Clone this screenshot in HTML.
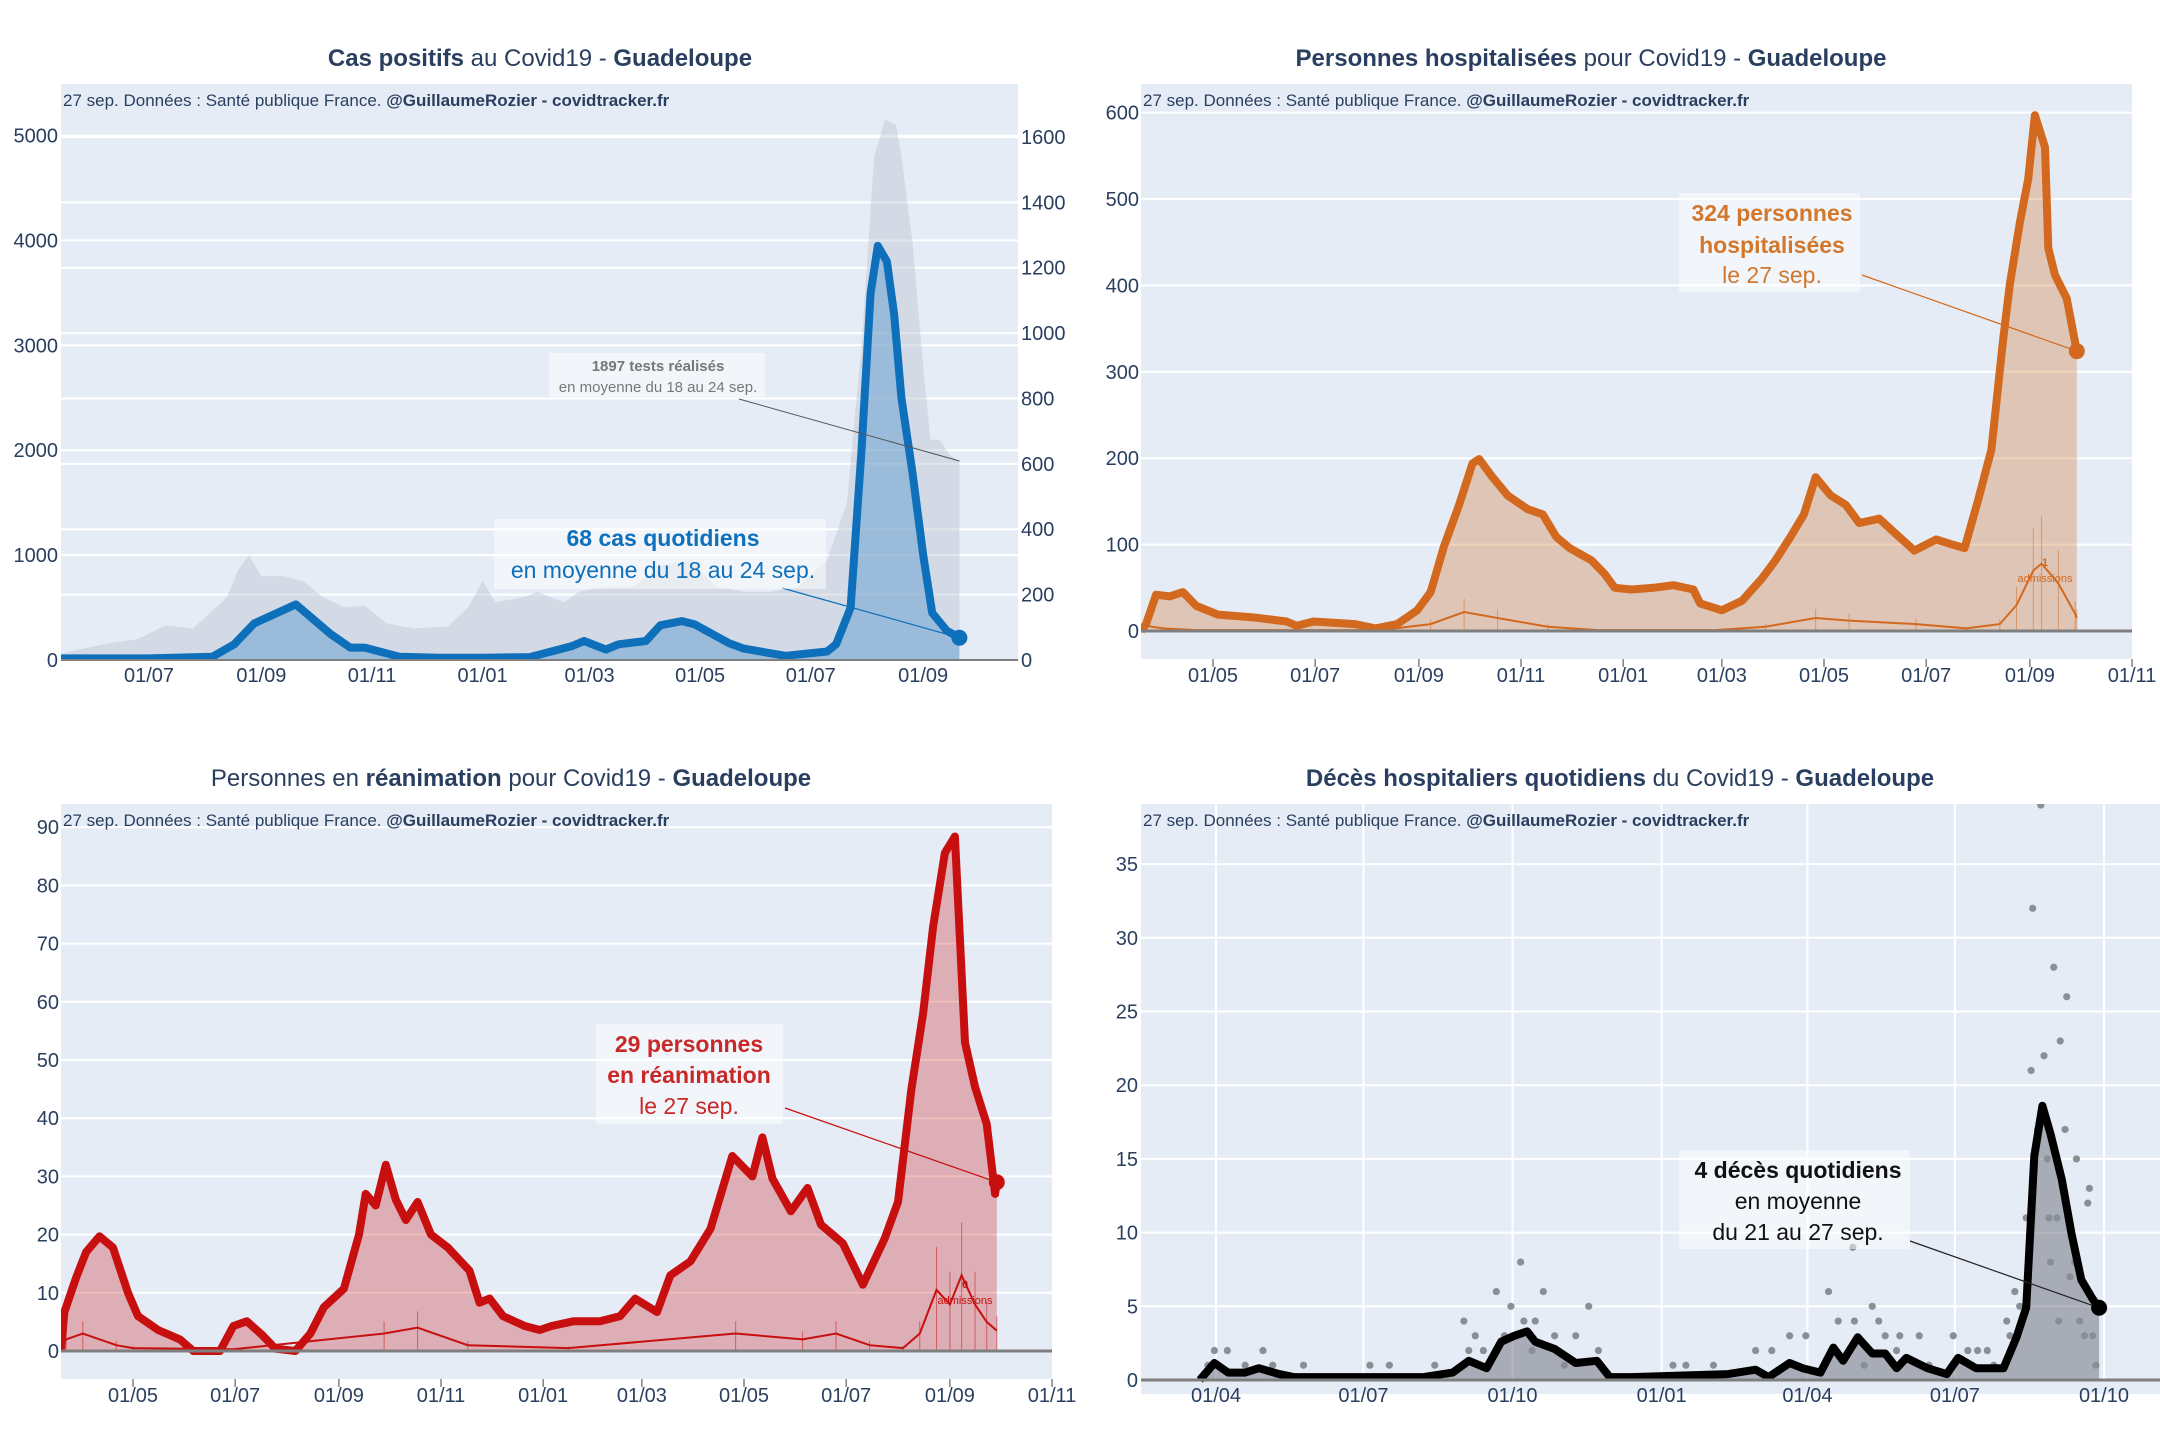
<!DOCTYPE html>
<html><head><meta charset="utf-8">
<style>
html,body{margin:0;padding:0;background:#fff;}
svg{display:block;font-family:"Liberation Sans",sans-serif;}
</style></head>
<body>
<svg id="chart" width="2160" height="1440" viewBox="0 0 2160 1440" xmlns="http://www.w3.org/2000/svg">
<defs>
<clipPath id="c1"><rect x="61" y="84" width="957" height="576"/></clipPath>
<clipPath id="c2"><rect x="1141" y="84" width="991" height="575"/></clipPath>
<clipPath id="c3"><rect x="61" y="804" width="991" height="575"/></clipPath>
<clipPath id="c4"><rect x="1141" y="804" width="1019" height="590"/></clipPath>
</defs>
<g id="root"></g>
</svg>
<script>
// ---- Panel 1: cases (right axis, days since 2020-07-01) & tests (left axis)
const casesDays   = [-48,0,35,47,58,81,100,111,119,138,160,184,210,233,240,252,259,274,282,294,301,320,328,351,374,379,387,393,398,402,407,411,415,421,427,432,440,447];
const casesValues = [5,5,10,48,112,170,80,38,38,10,7,7,9,42,58,32,48,58,106,119,109,51,35,13,26,48,160,641,1122,1267,1219,1058,802,577,321,144,90,68];
const testsDays   = [-48,-44,-25,-6,9,24,32,43,49,55,62,74,85,96,108,119,131,146,165,176,184,191,207,214,229,237,252,267,283,298,313,328,343,358,374,385,393,400,406,412,415,421,427,431,436,442,447];
const testsValues = [60,80,150,200,330,300,420,600,850,1000,800,800,750,600,500,520,350,300,320,500,750,550,600,650,550,650,700,700,900,950,700,650,650,700,950,1500,3000,4800,5150,5100,4800,4000,2800,2100,2100,1950,1897];
const p1LeftTicks  = [0,1000,2000,3000,4000,5000];
const p1RightTicks = [0,200,400,600,800,1000,1200,1400,1600];
const p1XTickDays  = [0,62,123,184,243,304,365,427];
const p1XTickLabels= ["01/07","01/09","01/11","01/01","01/03","01/05","01/07","01/09"];

// ---- Panel 2: hospitalised (days since 2020-05-01)
const hospDays   = [-43,-40,-34,-26,-18,-10,3,23,44,50,60,85,97,110,122,130,138,147,155,159,167,176,188,197,205,213,226,234,240,250,263,275,287,291,304,316,328,336,345,353,360,369,378,386,398,407,419,432,440,449,457,465,472,476,482,487,491,497,499,503,510,516];
const hospValues = [0,8,42,40,45,29,19,16,11,6,11,8,3,8,24,45,98,146,194,199,178,157,141,135,109,96,82,66,50,48,50,53,48,32,24,35,61,82,109,135,178,157,146,125,130,114,93,106,101,96,151,210,337,401,473,523,597,560,443,412,385,324];
const hospAdmDays   = [-43,-40,-30,-10,0,100,130,150,170,200,230,300,330,360,380,420,450,470,480,490,495,505,515,516];
const hospAdmValues = [0,6,3,1,1,1,8,22,15,5,1,1,5,15,12,8,3,8,30,70,78,55,20,15];
const p2YTicks = [0,100,200,300,400,500,600];
const p23XTickDays   = [0,61,123,184,245,304,365,426,488,549];
const p23XTickLabels = ["01/05","01/07","01/09","01/11","01/01","01/03","01/05","01/07","01/09","01/11"];

// ---- Panel 3: ICU (days since 2020-05-01)
const icuDays   = [-43,-41,-34,-28,-20,-12,-3,3,15,28,36,52,60,68,77,85,97,106,114,126,135,139,145,151,157,163,170,178,188,201,207,213,221,234,243,250,263,279,291,300,313,321,333,345,358,370,376,382,393,403,411,424,436,449,457,465,472,478,485,491,497,503,510,515,516];
const icuValues = [0,6.7,12.6,17,19.7,17.8,10,6,3.6,2,0,0,4.3,5.1,2.8,0.4,0,3,7.5,10.7,20,27,25,32,26,22.5,25.6,20,17.8,13.8,8.3,9,6,4.3,3.6,4.3,5.1,5.1,6,9,6.7,13,15.4,21,33.5,30,36.7,29.6,24,28,21.7,18.5,11.4,19.3,25.6,45,58,73,85.6,88.4,53,45.4,39,27,29];
const icuAdmDays   = [-43,-40,-30,-10,0,60,150,170,200,260,360,400,420,440,460,470,480,488,495,503,510,516];
const icuAdmValues = [0,2,3,1,0.5,0.3,3,4,1,0.5,3,2,3,1,0.5,3,10.5,8,13,8,5,3.5];
const p3YTicks = [0,10,20,30,40,50,60,70,80,90];

// ---- Panel 4: deaths (days since 2020-04-01)
const deathDays   = [-10,-1,7.5,18,26.5,39,48,128,146,156,167,176,184,192,197,209,222,235,243,256,316,333,341,354,362,373,381,387,396,405,413,420,426,439,451,458,469,486,494,500,505,510,515,522,528,534,541,545];
const deathValues = [0,1.15,0.5,0.5,0.8,0.4,0.2,0.2,0.5,1.3,0.8,2.6,3,3.3,2.6,2.1,1.15,1.3,0.2,0.2,0.4,0.7,0.2,1.15,0.8,0.5,2.2,1.3,2.9,1.8,1.8,0.8,1.5,0.8,0.4,1.5,0.8,0.8,2.9,4.9,15.2,18.6,16.7,13.6,9.9,6.8,5.5,4.9];
const dotDays   = [-5,-1,7,18,29,35,54,95,107,135,153,156,160,173,182,188,190,197,202,209,222,230,236,282,290,307,333,343,354,364,378,384,393,394,405,409,413,422,434,455,464,476,488,493,500,503,504,507,509,511,513,514,515,517,519,521,524,525,527,531,533,538,539,541,543,165,178,195,215,380,400,420,440,470,480,490,496,520,530,536];
const dotValues = [1,2,2,1,2,1,1,1,1,1,4,2,3,6,5,8,4,4,6,3,3,5,2,1,1,1,2,2,3,3,6,4,9,4,5,4,3,3,3,3,2,2,4,6,11,21,32,17,39,22,15,11,8,28,11,23,17,26,7,15,4,12,13,3,1,2,3,2,1,2,1,2,1,2,1,3,5,4,8,3];
const p4YTicks = [0,5,10,15,20,25,30,35];
const p4XTickDays   = [0,91,183,275,365,456,548];
const p4XTickLabels = ["01/04","01/07","01/10","01/01","01/04","01/07","01/10"];

const NS="http://www.w3.org/2000/svg";
const root=document.getElementById('root');
function el(tag,attrs,parent){const e=document.createElementNS(NS,tag);for(const k in attrs)e.setAttribute(k,attrs[k]);(parent||root).appendChild(e);return e;}
function txt(s,attrs,parent){const e=el('text',attrs,parent);e.textContent=s;return e;}
function pathFrom(days,vals,xf,yf){return days.map((d,i)=>(i?'L':'M')+xf(d).toFixed(1)+','+yf(vals[i]).toFixed(1)).join(' ');}
function areaFrom(days,vals,xf,yf,y0){return pathFrom(days,vals,xf,yf)+' L'+xf(days[days.length-1]).toFixed(1)+','+y0+' L'+xf(days[0]).toFixed(1)+','+y0+' Z';}
const AX='#2a3f5f';

function frame(x,y,w,h,name){
  const r=el('rect',{x:x,y:y,width:w,height:h,fill:'#e5ecf6'});
  
  
}
function hgrid(x1,x2,y){el('line',{x1:x1,x2:x2,y1:y,y2:y,stroke:'#fff','stroke-width':2});}
function title(parts,cx,y,name){
  const t=txt('',{x:cx,y:y,'text-anchor':'middle','font-size':24,fill:AX});
  
  
  parts.forEach(p=>{const s=document.createElementNS(NS,'tspan');s.textContent=p[0];if(p[1])s.setAttribute('font-weight','bold');t.appendChild(s);});
}
function source(x,y){
  const t=txt('',{x:x,y:y,'font-size':17,fill:AX});
  
  
  const a=document.createElementNS(NS,'tspan');a.textContent='27 sep. Données : Santé publique France. ';t.appendChild(a);
  const b=document.createElementNS(NS,'tspan');b.textContent='@GuillaumeRozier - covidtracker.fr';b.setAttribute('font-weight','bold');t.appendChild(b);
}
function annot(lines,cx,ys,color,box,name){
  const g=el('g',{});
  
  
  el('rect',{x:box[0],y:box[1],width:box[2],height:box[3],fill:'rgba(255,255,255,0.5)'},g);
  lines.forEach((l,i)=>{txt(l[0],{x:cx,y:ys[i],'text-anchor':'middle','font-size':l[2]||23,fill:color,'font-weight':l[1]?'bold':'normal'},g);});
}

// ================= PANEL 1 =================
(function(){
  const xf=d=>149+d*1.813, yl=v=>660-v*0.1049, yr=v=>660-v*0.3269;
  frame(61,84,957,576,'cases-plot-area');
  p1RightTicks.forEach(v=>hgrid(61,1018,yr(v)));
  p1LeftTicks.forEach(v=>hgrid(61,1018,yl(v)));
  const g=el('g',{'clip-path':'url(#c1)'});
  const ta=el('path',{d:areaFrom(testsDays,testsValues,xf,yl,660),fill:'rgba(185,192,205,0.42)'},g);
  
  
  const ca=el('path',{d:areaFrom(casesDays,casesValues,xf,yr,660),fill:'rgba(70,140,200,0.4)'},g);
  
  
  const cl=el('path',{d:pathFrom(casesDays,casesValues,xf,yr),fill:'none',stroke:'#0e6fbb','stroke-width':8,'stroke-linejoin':'round','stroke-linecap':'round'},g);
  
  
  el('line',{x1:61,x2:1018,y1:660,y2:660,stroke:'#7f7f7f','stroke-width':2});
  p1LeftTicks.forEach(v=>{const t=txt(String(v),{x:58,y:yl(v)+7,'text-anchor':'end','font-size':20,fill:AX});});
  p1RightTicks.forEach(v=>{const t=txt(String(v),{x:1021,y:yr(v)+7,'font-size':20,fill:AX});});
  p1XTickDays.forEach((d,i)=>{const t=txt(p1XTickLabels[i],{x:xf(d),y:682,'text-anchor':'middle','font-size':20,fill:AX});});
  title([['Cas positifs',1],[' au Covid19 - '],['Guadeloupe',1]],540,66,'cases-title');
  source(63,106);
  const ld=testsDays[testsDays.length-1], lv=testsValues[testsValues.length-1];
  el('line',{x1:739,y1:399,x2:xf(ld),y2:yl(lv),stroke:'#555','stroke-width':1});
  annot([['1897 tests réalisés',1,15],['en moyenne du 18 au 24 sep.',0,15]],658,[371,392],'#777',[549,353,216,44],'tests-annotation');
  const cd=casesDays[casesDays.length-1], cv=casesValues[casesValues.length-1];
  el('line',{x1:782,y1:588,x2:xf(cd),y2:yr(cv),stroke:'#0e6fbb','stroke-width':1.2});
  annot([['68 cas quotidiens',1],['en moyenne du 18 au 24 sep.',0]],663,[546,578],'#0e6fbb',[494,519,332,70],'cases-annotation');
  const m=el('circle',{cx:xf(cd),cy:yr(cv),r:8,fill:'#0e6fbb'});
  
  
})();

// ================= PANEL 2 & 3 helper =================
function panelHosp(o){
  const xf=d=>o.x0+d*1.674, yf=v=>o.yz-v*o.k;
  frame(o.left,o.top,991,575,o.name+'-plot-area');
  o.yTicks.forEach(v=>hgrid(o.left,o.left+991,yf(v)));
  const g=el('g',{'clip-path':'url(#'+o.clip+')'});
  const a=el('path',{d:areaFrom(o.days,o.vals,xf,yf,o.yz),fill:o.fill},g);
  
  
  o.admDays.forEach((d,i)=>{
    const b=el('line',{x1:xf(d),x2:xf(d),y1:o.yz,y2:yf(o.admVals[i]*1.7),stroke:o.color,'stroke-width':1,opacity:0.5},g);
    
    
  });
  const al=el('path',{d:pathFrom(o.admDays,o.admVals,xf,yf),fill:'none',stroke:o.color,'stroke-width':2},g);
  
  
  const l=el('path',{d:pathFrom(o.days,o.vals,xf,yf),fill:'none',stroke:o.color,'stroke-width':8,'stroke-linejoin':'round'},g);
  
  
  el('line',{x1:o.left,x2:o.left+991,y1:o.yz,y2:o.yz,stroke:'#7f7f7f','stroke-width':3});
  o.yTicks.forEach(v=>{const t=txt(String(v),{x:o.left-2,y:yf(v)+7,'text-anchor':'end','font-size':20,fill:AX});});
  p23XTickDays.forEach((d,i)=>{
    el('line',{x1:xf(d),x2:xf(d),y1:o.top+575,y2:o.top+583,stroke:'#444','stroke-width':1});
    const t=txt(p23XTickLabels[i],{x:xf(d),y:o.top+598,'text-anchor':'middle','font-size':20,fill:AX});
    
  });
  title(o.title,o.left+450,o.top-18,o.name+'-title');
  source(o.left+2,o.top+22);
  const ld=o.days[o.days.length-1], lv=o.vals[o.vals.length-1];
  el('line',{x1:o.lineFrom[0],y1:o.lineFrom[1],x2:xf(ld),y2:yf(lv),stroke:o.color,'stroke-width':1.2});
  annot(o.ann,o.annX,o.annY,o.textColor,o.box,o.name+'-annotation');
  const m=el('circle',{cx:xf(ld),cy:yf(lv),r:8,fill:o.color});
  
  
  const s1=txt(o.admLabel,{x:o.admX,y:o.admY,'text-anchor':'middle','font-size':11,fill:o.color,'font-weight':'bold'});
  
  const s2=txt('admissions',{x:o.admX,y:o.admY+16,'text-anchor':'middle','font-size':11,fill:o.color});
  
}
panelHosp({name:'hospital',left:1141,top:84,x0:1213,yz:631,k:0.864,clip:'c2',days:hospDays,vals:hospValues,admDays:hospAdmDays,admVals:hospAdmValues,
  yTicks:p2YTicks,color:'#d2691e',textColor:'#d2772c',fill:'rgba(210,105,30,0.3)',
  title:[['Personnes hospitalisées',1],[' pour Covid19 - '],['Guadeloupe',1]],
  lineFrom:[1862,275],ann:[['324 personnes',1],['hospitalisées',1],['le 27 sep.',0]],annX:1772,annY:[221,253,283],box:[1679,193,181,99],
  admLabel:'1',admX:2045,admY:566});
panelHosp({name:'icu',left:61,top:804,x0:133,yz:1351,k:5.82,clip:'c3',days:icuDays,vals:icuValues,admDays:icuAdmDays,admVals:icuAdmValues,
  yTicks:p3YTicks,color:'#c80f0f',textColor:'#c82828',fill:'rgba(200,15,15,0.28)',
  title:[['Personnes en '],['réanimation',1],[' pour Covid19 - '],['Guadeloupe',1]],
  lineFrom:[785,1108],ann:[['29 personnes',1],['en réanimation',1],['le 27 sep.',0]],annX:689,annY:[1052,1083,1114],box:[596,1024,187,100],
  admLabel:'0',admX:965,admY:1288});

// ================= PANEL 4 =================
(function(){
  const xf=d=>1216+d*1.6204, yf=v=>1380-v*14.74;
  frame(1141,804,1019,590,'deaths-plot-area');
  p4YTicks.forEach(v=>hgrid(1141,2160,yf(v)));
  p4XTickDays.forEach(d=>el('line',{x1:xf(d),x2:xf(d),y1:804,y2:1380,stroke:'#fff','stroke-width':2}));
  const g=el('g',{'clip-path':'url(#c4)'});
  const a=el('path',{d:areaFrom(deathDays,deathValues,xf,yf,1380),fill:'rgba(90,95,105,0.45)'},g);
  
  
  dotDays.forEach((d,i)=>{
    const c=el('circle',{cx:xf(d),cy:yf(dotValues[i]),r:3.6,fill:'#8a8f96'},g);
    
    
  });
  const l=el('path',{d:pathFrom(deathDays,deathValues,xf,yf),fill:'none',stroke:'#000','stroke-width':8,'stroke-linejoin':'round'},g);
  
  
  el('line',{x1:1141,x2:2160,y1:1380,y2:1380,stroke:'#7f7f7f','stroke-width':3});
  p4YTicks.forEach(v=>{const t=txt(String(v),{x:1138,y:yf(v)+7,'text-anchor':'end','font-size':20,fill:AX});});
  p4XTickDays.forEach((d,i)=>{const t=txt(p4XTickLabels[i],{x:xf(d),y:1402,'text-anchor':'middle','font-size':20,fill:AX});});
  title([['Décès hospitaliers quotidiens',1],[' du Covid19 - '],['Guadeloupe',1]],1620,786,'deaths-title');
  source(1143,826);
  const ld=deathDays[deathDays.length-1], lv=deathValues[deathValues.length-1];
  el('line',{x1:1910,y1:1241,x2:xf(ld),y2:yf(lv),stroke:'#222','stroke-width':1.2});
  annot([['4 décès quotidiens',1],['en moyenne',0],['du 21 au 27 sep.',0]],1798,[1178,1209,1240],'#111',[1679,1150,231,99],'deaths-annotation');
  const m=el('circle',{cx:xf(ld),cy:yf(lv),r:8,fill:'#000'});
  
  
})();
</script>
</body></html>
